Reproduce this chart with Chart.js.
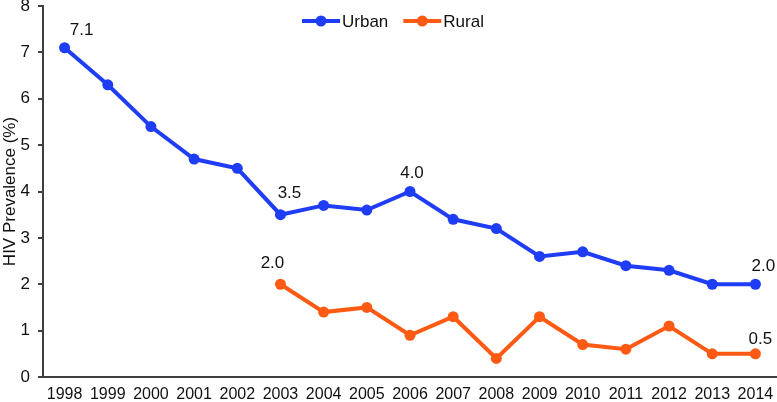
<!DOCTYPE html>
<html lang="en">
<head>
  <meta charset="UTF-8">
  <script src="https://cdn.jsdelivr.net/npm/chart.js"></script>
  <style>
    html, body { margin: 0; padding: 0; background: #fff; }
    .wrap { width: 777px; height: 402px; }
  </style>
  <title>HIV Prevalence</title>
</head>
<body>
  <div class="wrap">
    <canvas id="grafico" width="777" height="402"></canvas>
  </div>

  <script>
    const anos = ["1998", "1999", "2000", "2001", "2002", "2003", "2004", "2005", "2006",
      "2007", "2008", "2009", "2010", "2011", "2012", "2013", "2014"];
    const urbano = [7.1, 6.3, 5.4, 4.7, 4.5, 3.5, 3.7, 3.6, 4.0, 3.4, 3.2, 2.6, 2.7, 2.4, 2.3, 2.0, 2.0];
    const rural = [null, null, null, null, null, 2.0, 1.4, 1.5, 0.9, 1.3, 0.4, 1.3, 0.7, 0.6, 1.1, 0.5, 0.5];
    const yTicks = [0, 1, 2, 3, 4, 5, 6, 7, 8];
    // which points get a value label
    const rotulosUrbano = [0, 5, 8, 16];
    const rotulosRural = [5, 16];

    const AZUL = "#1f3df5";
    const LARANJA = "#ff5a14";
    const FONTE = "'Liberation Sans', Arial, sans-serif";

    // label offsets (dx, dy) per labelled point
    const deslocUrbano = { 0: [17, -17], 5: [9, -21], 8: [2, -18], 16: [8, -18] };
    const deslocRural = { 5: [-8, -21], 16: [5, -15] };

    const rotulos = {
      id: "rotulos",
      afterDatasetsDraw(chart) {
        const ctx = chart.ctx;
        ctx.save();
        ctx.font = "17px " + FONTE;
        ctx.fillStyle = "#111";
        ctx.textAlign = "center";
        ctx.textBaseline = "middle";
        const conjuntos = [[0, rotulosUrbano, deslocUrbano], [1, rotulosRural, deslocRural]];
        conjuntos.forEach(([d, idx, desl]) => {
          const meta = chart.getDatasetMeta(d);
          idx.forEach(i => {
            const p = meta.data[i];
            const v = chart.data.datasets[d].data[i];
            ctx.fillText(v.toFixed(1), p.x + desl[i][0], p.y + desl[i][1]);
          });
        });
        ctx.restore();
      }
    };

    const legenda = {
      id: "legenda",
      afterDraw(chart) {
        const ctx = chart.ctx;
        ctx.save();
        ctx.font = "17px " + FONTE;
        ctx.textBaseline = "middle";
        let x = 302;
        const y = 21;
        chart.data.datasets.forEach(ds => {
          ctx.strokeStyle = ds.borderColor;
          ctx.lineWidth = 4;
          ctx.beginPath();
          ctx.moveTo(x, y);
          ctx.lineTo(x + 38, y);
          ctx.stroke();
          ctx.fillStyle = ds.borderColor;
          ctx.beginPath();
          ctx.arc(x + 19, y, 5.5, 0, Math.PI * 2);
          ctx.fill();
          ctx.fillStyle = "#111";
          ctx.fillText(ds.label, x + 40, y + 1);
          x += 40 + ctx.measureText(ds.label).width + 15;
        });
        ctx.restore();
      }
    };

    const ctx = document.getElementById("grafico").getContext("2d");
    new Chart(ctx, {
      type: "line",
      data: {
        labels: anos,
        datasets: [
          {
            label: "Urban",
            data: urbano,
            borderColor: AZUL,
            backgroundColor: AZUL,
            borderWidth: 4,
            pointRadius: 5.5,
            pointHoverRadius: 5.5,
            pointBorderWidth: 0,
            tension: 0
          },
          {
            label: "Rural",
            data: rural,
            borderColor: LARANJA,
            backgroundColor: LARANJA,
            borderWidth: 4,
            pointRadius: 5.5,
            pointHoverRadius: 5.5,
            pointBorderWidth: 0,
            tension: 0
          }
        ]
      },
      options: {
        responsive: false,
        animation: false,
        layout: { autoPadding: false, padding: 0 },
        plugins: {
          legend: { display: false },
          tooltip: { enabled: false }
        },
        scales: {
          x: {
            offset: true,
            grid: { display: false, drawTicks: false },
            border: { color: "#404040", width: 2 },
            ticks: {
              color: "#111",
              font: { size: 16, family: FONTE },
              padding: 8,
              maxRotation: 0,
              autoSkip: false
            },
            afterFit(scale) {
              scale.height = 25;
              scale.paddingLeft = 0;
              scale.paddingRight = 0;
            }
          },
          y: {
            min: 0,
            max: 8,
            afterBuildTicks(scale) {
              scale.ticks = yTicks.map(v => ({ value: v }));
            },
            grid: { drawOnChartArea: false, drawTicks: true, tickLength: 5, color: "#404040", lineWidth: 2 },
            border: { color: "#404040", width: 2 },
            ticks: {
              color: "#111",
              font: { size: 17, family: FONTE },
              padding: 8
            },
            title: {
              display: true,
              text: "HIV Prevalence (%)",
              color: "#111",
              font: { size: 17, family: FONTE },
              padding: 0
            },
            afterFit(scale) {
              scale.width = 43;
              scale.paddingTop = 6;
              scale.paddingBottom = 0;
            }
          }
        }
      },
      plugins: [rotulos, legenda]
    });
  </script>
</body>
</html>
